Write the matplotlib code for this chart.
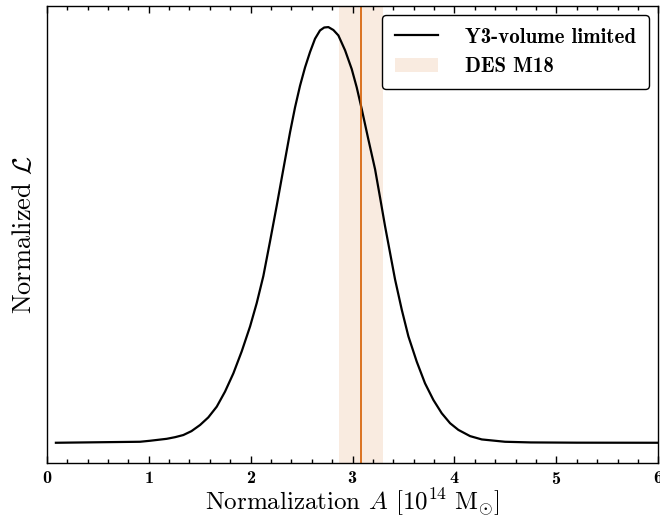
import matplotlib
matplotlib.use("Agg")
import matplotlib.pyplot as plt
from matplotlib.ticker import MultipleLocator

plt.rcParams['mathtext.fontset'] = 'cm'
plt.rcParams['font.family'] = 'cmr10'
plt.rcParams['axes.formatter.use_mathtext'] = True

# likelihood curve (normalized to peak = 1)
amp = [0.09, 0.915, 1.013, 1.177, 1.260, 1.340, 1.420, 1.504, 1.585, 1.668,
       1.749, 1.831, 1.913, 1.995, 2.060, 2.125, 2.191, 2.256, 2.321, 2.387,
       2.436, 2.485, 2.534, 2.583, 2.632, 2.681, 2.722, 2.763, 2.812, 2.861,
       2.927, 2.992, 3.041, 3.090, 3.155, 3.221, 3.270, 3.319, 3.368, 3.417,
       3.483, 3.548, 3.630, 3.711, 3.793, 3.875, 3.957, 4.038, 4.153, 4.268,
       4.496, 4.75, 5.2, 6.0]
like = [0.0, 0.0024, 0.0048, 0.0095, 0.0135, 0.0186, 0.028, 0.0427, 0.061, 0.0869,
        0.123, 0.167, 0.220, 0.280, 0.336, 0.401, 0.485, 0.570, 0.658, 0.747,
        0.807, 0.859, 0.903, 0.940, 0.972, 0.992, 0.999, 1.0, 0.993, 0.980,
        0.944, 0.899, 0.855, 0.803, 0.730, 0.658, 0.590, 0.521, 0.457, 0.393,
        0.320, 0.256, 0.195, 0.143, 0.103, 0.071, 0.047, 0.031, 0.016, 0.008,
        0.0024, 0.0008, 0.0002, 0.0]

# DES M18 constraint
m18_mean = 3.08
m18_lo, m18_hi = 2.868, 3.302

orange = '#d55e00'

fig = plt.figure(figsize=(6.6, 5.17), dpi=100)
ax = fig.add_axes([0.0708, 0.105, 0.9267, 0.8836])

ax.plot(amp, like, color='black', lw=1.6, label='Y3-volume limited',
        solid_joinstyle='round')
ax.axvspan(m18_lo, m18_hi, color=orange, alpha=0.12, lw=0, label='DES M18')
ax.axvline(m18_mean, color=orange, lw=1.2)

ax.set_xlim(0, 6)
ax.set_ylim(-0.048, 1.051)

ax.xaxis.set_major_locator(MultipleLocator(1))
ax.xaxis.set_minor_locator(MultipleLocator(0.2))
ax.tick_params(axis='x', which='both', direction='in', top=True, bottom=True, width=1.0)
ax.tick_params(axis='x', which='major', length=5, pad=5)
ax.tick_params(axis='x', which='minor', length=3)
ax.tick_params(axis='y', which='both', left=False, labelleft=False)
for lab in ax.get_xticklabels():
    lab.set_fontfamily('cmb10')
    lab.set_fontsize(13)
for sp in ax.spines.values():
    sp.set_linewidth(1.0)

ax.set_xlabel(r'Normalization $A$ [$10^{14}\ \mathrm{M}_{\odot}$]', fontsize=18, labelpad=0)
ax.set_ylabel(r'Normalized $\mathcal{L}$', fontsize=19, labelpad=8)

leg = ax.legend(loc='upper right', prop={'family': 'cmb10', 'size': 15},
                fancybox=True, framealpha=1, edgecolor='black',
                handlelength=2.1, handletextpad=1.3, borderpad=0.6,
                borderaxespad=0.45, labelspacing=0.5)
leg.get_frame().set_linewidth(1.0)

fig.savefig('out.png', dpi=100)
